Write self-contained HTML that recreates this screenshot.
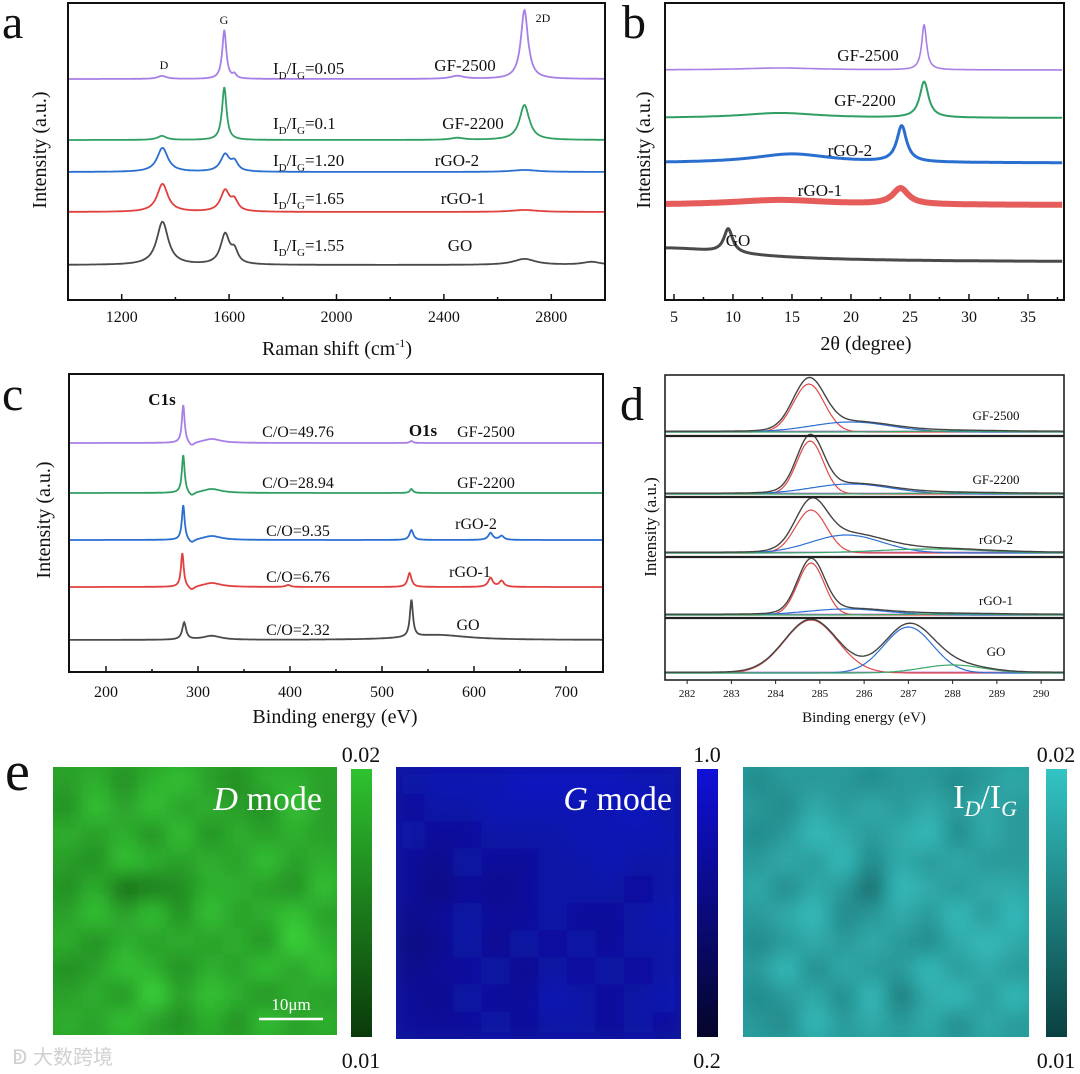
<!DOCTYPE html>
<html><head><meta charset="utf-8"><style>
html,body{margin:0;padding:0;background:#fff;}
svg{display:block;font-family:"Liberation Serif","Noto Serif CJK SC",serif;}
</style></head><body>
<svg id="fig" width="1080" height="1074" viewBox="0 0 1080 1074" xmlns="http://www.w3.org/2000/svg">
<defs>
<filter id="blur" x="-0.1" y="-0.1" width="1.2" height="1.2"><feGaussianBlur stdDeviation="11" edgeMode="duplicate"/></filter>
<clipPath id="clipG"><rect x="53" y="767" width="284" height="268"/></clipPath>
<clipPath id="clipB"><rect x="396" y="767" width="285" height="272"/></clipPath>
<clipPath id="clipT"><rect x="743" y="767" width="286" height="270"/></clipPath>
<linearGradient id="cbG" x1="0" y1="0" x2="0" y2="1"><stop offset="0" stop-color="#2fc22f"/><stop offset="1" stop-color="#0a3a0a"/></linearGradient>
<linearGradient id="cbB" x1="0" y1="0" x2="0" y2="1"><stop offset="0" stop-color="#1010d8"/><stop offset="1" stop-color="#05052a"/></linearGradient>
<linearGradient id="cbT" x1="0" y1="0" x2="0" y2="1"><stop offset="0" stop-color="#33c4c4"/><stop offset="1" stop-color="#0a4040"/></linearGradient>
</defs>
</svg>
<script>
// ---------- DATA ----------
// Panel a: Raman
const ramanSamples = ['GF-2500','GF-2200','rGO-2','rGO-1','GO'];
const ramanRatios = ['0.05','0.1','1.20','1.65','1.55'];
const ramanOffsets = [221,160,128,88,35];
const ramanPeaks = [
  [[1350,3,20],[1582,49,9],[1620,4,8],[2450,3,30],[2700,69,16]],
  [[1350,4,20],[1582,53,10],[2450,2,30],[2700,35,22]],
  [[1352,24,24],[1585,17,20],[1620,9,15],[2700,2,60]],
  [[1352,28,24],[1585,21,20],[1620,10,15],[2700,2,60]],
  [[1352,43,26],[1585,30,20],[1620,12,15],[2700,6,50],[2950,3,40]]
];
const ramanTicks = [1200,1600,2000,2400,2800];
// Panel b: XRD
const xrdSamples = ['GF-2500','GF-2200','rGO-2','rGO-1','GO'];
const xrdOffsets = [230,182,137,95,38];
const xrdPeaks = [
  [[26.2,45,0.25],[14,2,4]],
  [[26.2,36,0.45],[14,5,4]],
  [[24.3,36,0.5],[15,9,4]],
  [[24.2,16,0.8],[14,5,5]],
  [[9.6,24,0.45],[4,14,8]]
];
const xrdTicks = [5,10,15,20,25,30,35];
// Panel c: XPS survey
const xpsSamples = ['GF-2500','GF-2200','rGO-2','rGO-1','GO'];
const xpsRatios = ['49.76','28.94','9.35','6.76','2.32'];
const xpsOffsets = [229,179,132,85,32];
const xpsPeaks = [
  [[284,38,1.8],[293,-4,4],[315,4,12],[532,2,2]],
  [[284,38,1.8],[293,-4,4],[315,4,12],[532,4,2]],
  [[284,35,1.8],[293,-4,4],[315,4,12],[532,10,2.5],[618,7,3],[630,4,3]],
  [[283,34,1.8],[293,-4,4],[315,4,12],[398,2,3],[530,14,2.5],[618,9,3],[630,6,3]],
  [[285,17,2.5],[315,4,12],[532,37,2],[560,5,40]]
];
const xpsTicks = [200,300,400,500,600,700];
// Panel d: C1s fits (gaussian components: center, height, sigma)
const c1sSamples = ['GF-2500','GF-2200','rGO-2','rGO-1','GO'];
const c1sRed   = [[284.75,48,0.35],[284.78,53,0.3],[284.8,43,0.35],[284.8,52,0.3],[284.8,53,0.6]];
const c1sBlue  = [[285.7,10,0.9],[285.7,10,0.9],[285.6,18,0.8],[285.6,6,0.9],[287,46,0.55]];
const c1sGreen = [[288,1,1],[288,1,1],[287.5,4,1.2],[288,1,1],[288,8,0.7]];
const c1sTicks = [282,283,284,285,286,287,288,289,290];
// Panel e: Raman maps (0 dark .. 9 bright)
const mapD = ["6757865776","5868676586","7675857676","6587676867","5734577658","6868586786","7576767597","5687576868","6759687576","7686575867"];
const mapG = ["6777888877","5667777786","6556667777","5465566766","5354566656","4565565567","3464656566","4556465656","5465576567","5556566565"];
const mapR = ["5666566567","6576767676","5687678576","6768576766","7576387677","6785676868","5676765787","6857668676","5675847868","6586767576"];
const cbLabels = [['0.02','0.01'],['1.0','0.2'],['0.02','0.01']];

// ---------- HELPERS ----------
const NS='http://www.w3.org/2000/svg';
const svg=document.getElementById('fig');
function mk(tag,attrs,parent){const e=document.createElementNS(NS,tag);for(const k in attrs)e.setAttribute(k,attrs[k]);(parent||svg).appendChild(e);return e;}
function tx(x,y,s,size,anchor,extra){const e=mk('text',Object.assign({x:x,y:y,'font-size':size,'text-anchor':anchor||'start',fill:'#111'},extra||{}));e.textContent=s;return e;}
const lor=(x,p)=>p[1]/(1+((x-p[0])/p[2])**2);
const gau=(x,p)=>p[1]*Math.exp(-0.5*((x-p[0])/p[2])**2);
function pathFrom(x0,x1,step,fx,fy,fn){let d='';for(let v=x0;v<=x1+1e-9;v+=step){d+=(d?'L':'M')+fx(v).toFixed(1)+','+fy(fn(v)).toFixed(1);}return d;}
const colors=['#a77fe6','#2f9f62','#2a6fd0','#e0403e','#4a4a4a'];
let e;

// ---------- PANEL A ----------
const xa=v=>68+(v-1000)*(537/2000), ya=v=>300-v;
ramanSamples.forEach((s,i)=>{
  e=mk('path',{d:pathFrom(1000,3000,3,xa,ya,v=>ramanOffsets[i]+ramanPeaks[i].reduce((a,p)=>a+lor(v,p),0)),fill:'none',stroke:colors[i],'stroke-width':1.8});
  
  
});
e=mk('rect',{x:68,y:3,width:537,height:297,fill:'none',stroke:'#111','stroke-width':2});


for(let v=1000;v<=3000;v+=200){const maj=ramanTicks.includes(v);
  e=mk('line',{x1:xa(v),x2:xa(v),y1:300,y2:maj?294:297,stroke:'#111','stroke-width':1.5});
  
  
}
ramanTicks.forEach(v=>{e=tx(xa(v),322,String(v),16,'middle');
  
  });
e=tx(337,355,'',20,'middle');e.innerHTML='Raman shift (cm<tspan dy="-8" font-size="12">-1</tspan><tspan dy="8">)</tspan>';


e=tx(0,0,'Intensity (a.u.)',20,'middle',{transform:'translate(46,150) rotate(-90)'});


const raPos=[[74,465],[129,473],[166,457],[204,463],[251,460]];
ramanSamples.forEach((s,i)=>{
  e=tx(273,raPos[i][0],'',17);e.innerHTML='I<tspan dy="5" font-size="11">D</tspan><tspan dy="-5">/I</tspan><tspan dy="5" font-size="11">G</tspan><tspan dy="-5">='+ramanRatios[i]+'</tspan>';
  
  
  e=tx(raPos[i][1],raPos[i][0]-(i==0?3:0),s,17,'middle');
  
  
});
e=tx(164,69,'D',12,'middle');
e=tx(224,24,'G',12,'middle');
e=tx(543,22,'2D',12,'middle');
e=tx(2,38,'a',48);

// ---------- PANEL B ----------
const xb=v=>665+(v-4.24)*11.8, yb=v=>300-v;
const xrdWidths=[1.6,2,3,6,3];
xrdSamples.forEach((s,i)=>{
  e=mk('path',{d:pathFrom(4.3,37.9,0.05,xb,yb,v=>xrdOffsets[i]+xrdPeaks[i].reduce((a,p)=>a+lor(v,p),0)),fill:'none',stroke:colors[i],'stroke-width':xrdWidths[i],'stroke-opacity':i==3?0.85:1,'stroke-linejoin':'round'});
  
  
});
e=mk('rect',{x:665,y:3,width:399,height:297,fill:'none',stroke:'#111','stroke-width':2});


for(let v=5;v<=37.5;v+=2.5){const maj=v%5==0;
  e=mk('line',{x1:xb(v),x2:xb(v),y1:300,y2:maj?294:297,stroke:'#111','stroke-width':1.5});
  
  }
xrdTicks.forEach(v=>{e=tx(xb(v),322,String(v),16,'middle');
  
  });
e=tx(866,350,'2θ (degree)',20,'middle');


e=tx(0,0,'Intensity (a.u.)',20,'middle',{transform:'translate(650,150) rotate(-90)'});


const xbPos=[[868,61],[865,106],[850,156],[820,196],[738,246]];
xrdSamples.forEach((s,i)=>{e=tx(xbPos[i][0],xbPos[i][1],s,17,'middle');
  
  });
e=tx(622,38,'b',48);

// ---------- PANEL C ----------
const xc=v=>69+(v-159.8)*0.92, yc=v=>672-v;
xpsSamples.forEach((s,i)=>{
  e=mk('path',{d:pathFrom(160,740,0.5,xc,yc,v=>xpsOffsets[i]+xpsPeaks[i].reduce((a,p)=>a+lor(v,p),0)),fill:'none',stroke:colors[i],'stroke-width':1.8});
  
  
});
e=mk('rect',{x:69,y:374,width:534,height:298,fill:'none',stroke:'#111','stroke-width':2});


for(let v=200;v<=700;v+=50){const maj=v%100==0;
  e=mk('line',{x1:xc(v),x2:xc(v),y1:672,y2:maj?666:669,stroke:'#111','stroke-width':1.5});
  
  }
xpsTicks.forEach(v=>{e=tx(xc(v),697,String(v),16,'middle');
  
  });
e=tx(335,723,'Binding energy (eV)',20,'middle');


e=tx(0,0,'Intensity (a.u.)',20,'middle',{transform:'translate(50,520) rotate(-90)'});


e=tx(162,405,'C1s',17,'middle',{'font-weight':'bold'});
e=tx(423,436,'O1s',17,'middle',{'font-weight':'bold'});
const xcPos=[[437,486,437],[488,486,488],[536,476,529],[582,470,577],[635,468,630]];
xpsSamples.forEach((s,i)=>{
  e=tx(298,xcPos[i][0],'C/O='+xpsRatios[i],16,'middle');
  
  
  e=tx(xcPos[i][1],xcPos[i][2],s,16,'middle');
  
  
});
e=tx(2,410,'c',48);

// ---------- PANEL D ----------
const xd=v=>665+(v-281.5)*44.25;
const subBase=[432,494,553,615,673];
c1sSamples.forEach((s,i)=>{
  const yd=v=>subBase[i]-v;
  const comps=[[c1sRed[i],'#e04848'],[c1sBlue[i],'#2d6fd0'],[c1sGreen[i],'#36a866']];
  e=mk('path',{d:pathFrom(281.5,290.5,0.05,xd,yd,v=>0.8),fill:'none',stroke:'#b070d0','stroke-width':1.2});
  
  
  comps.forEach(([p,c])=>{
    e=mk('path',{d:pathFrom(281.5,290.5,0.05,xd,yd,v=>gau(v,p)),fill:'none',stroke:c,'stroke-width':1.2});
    
    
  });
  e=mk('path',{d:pathFrom(281.5,290.5,0.05,xd,yd,v=>0.8+gau(v,c1sRed[i])+gau(v,c1sBlue[i])+gau(v,c1sGreen[i])),fill:'none',stroke:'#444','stroke-width':1.4});
  
  
});
e=mk('rect',{x:665,y:375,width:399,height:305,fill:'none',stroke:'#222','stroke-width':1.6});


[436,497,557,618].forEach(y=>{e=mk('line',{x1:665,x2:1064,y1:y,y2:y,stroke:'#222','stroke-width':2.2});
  
  });
c1sTicks.forEach(v=>{
  e=mk('line',{x1:xd(v),x2:xd(v),y1:680,y2:684,stroke:'#222','stroke-width':1});
  
  
  e=tx(xd(v),697,String(v),11,'middle');
  
  
});
e=tx(864,722,'Binding energy (eV)',15,'middle');


e=tx(0,0,'Intensity (a.u.)',17,'middle',{transform:'translate(656,527) rotate(-90)'});


const dPos=[416,480,540,601,652];
c1sSamples.forEach((s,i)=>{e=tx(996,dPos[i]+4,s,13,'middle');
  
  });
e=tx(620,420,'d',48);

// ---------- PANEL E ----------
function lerp(a,b,t){return a.map((v,k)=>Math.round(v+(b[k]-v)*t));}
const maps=[
  {grid:mapD,x:53,w:284,h:268,clip:'clipG',lo:[8,45,8],hi:[58,215,58],mid:'#28a428',cb:[351,21,'cbG'],name:'d-mode-map'},
  {grid:mapG,x:396,w:285,h:272,clip:'clipB',lo:[4,6,90],hi:[14,26,205],mid:'#0814a0',cb:[697,21,'cbB'],name:'g-mode-map'},
  {grid:mapR,x:743,w:286,h:270,clip:'clipT',lo:[6,50,50],hi:[60,205,205],mid:'#269e9e',cb:[1046,21,'cbT'],name:'id-ig-ratio-map'}
];
maps.forEach((m,mi)=>{
  const g=mk('g',{'clip-path':'url(#'+m.clip+')'});
  
  
  mk('rect',{x:m.x,y:767,width:m.w,height:m.h,fill:m.mid},g);
  const inner=mk('g',{filter:'url(#blur)'},g);
  const rows=m.grid.length, cols=m.grid[0].length, cw=m.w/cols, ch=m.h/rows;
  m.grid.forEach((row,r)=>{[...row].forEach((d,c)=>{
    const col=lerp(m.lo,m.hi,(+d)/9);
    e=mk('rect',{x:m.x+c*cw,y:767+r*ch,width:cw+0.5,height:ch+0.5,fill:'rgb('+col.join(',')+')'},inner);
    
    
  });});
  e=mk('rect',{x:m.cb[0],y:769,width:m.cb[1],height:268,fill:'url(#'+m.cb[2]+')'});
  
  
  e=tx(m.cb[0]+10,762,cbLabels[mi][0],22,'middle');
  
  
  e=tx(m.cb[0]+10,1068,cbLabels[mi][1],22,'middle');
  
  
});
e=tx(322,810,'',34,'end',{fill:'#fff'});e.innerHTML='<tspan font-style="italic">D</tspan> mode';


e=tx(672,810,'',34,'end',{fill:'#fff'});e.innerHTML='<tspan font-style="italic">G</tspan> mode';


e=tx(1017,808,'',34,'end',{fill:'#fff'});e.innerHTML='I<tspan dy="8" font-size="22" font-style="italic">D</tspan><tspan dy="-8">/I</tspan><tspan dy="8" font-size="22" font-style="italic">G</tspan>';


e=mk('line',{x1:259,x2:323,y1:1019,y2:1019,stroke:'#fff','stroke-width':2.5});


e=tx(291,1010,'10μm',17,'middle',{fill:'#fff'});


e=tx(5,790,'e',56);
e=tx(12,1064,'ↁ 大数跨境',20,'start',{fill:'#d0d0d0',style:'font-family:"Liberation Sans","Noto Sans CJK SC",sans-serif'});


</script>
</body></html>
